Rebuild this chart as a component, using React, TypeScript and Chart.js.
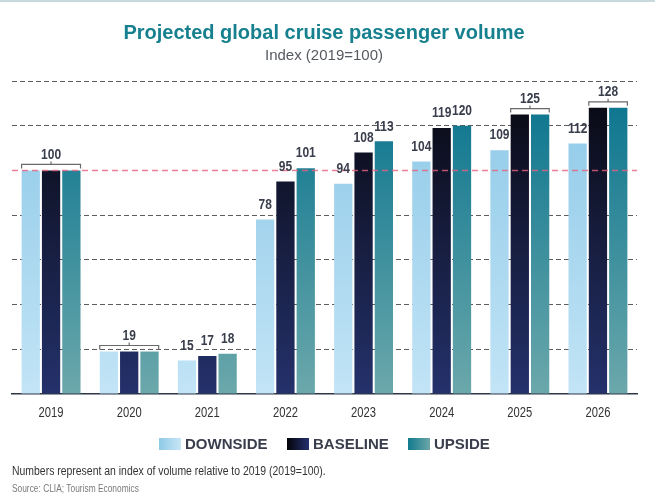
import React, { useEffect, useRef } from "react";
import { Chart, registerables } from "chart.js";
Chart.register(...registerables);

const years = ["2019", "2020", "2021", "2022", "2023", "2024", "2025", "2026"];
const downside = [100, 19, 15, 78, 94, 104, 109, 112];
const baseline = [100, 19, 17, 95, 108, 119, 125, 128];
const upside = [100, 19, 18, 101, 113, 120, 125, 128];
const seriesNames = ["DOWNSIDE", "BASELINE", "UPSIDE"];
const yMax = 140;
const yStep = 20;
const referenceValue = 100;
const titleText = "Projected global cruise passenger volume";
const subtitleText = "Index (2019=100)";
const footnoteText = "Numbers represent an index of volume relative to 2019 (2019=100).";
const sourceText = "Source: CLIA; Tourism Economics";

const SANS = "'Liberation Sans', Arial, sans-serif";

// vertical gradient stops (top, bottom) per series
const barStops = [
  ["#8cc8e7", "#c2e4f6"],
  ["#08080f", "#24316b"],
  ["#06728d", "#6ba8ab"],
];
// horizontal legend swatches (left, right)
const swatchStops = [
  ["#8ecae6", "#c8e6f6"],
  ["#04040a", "#23306e"],
  ["#117a8e", "#6ca6a9"],
];

function barGradient(i: number) {
  return (context: any) => {
    const chart = context.chart;
    const area = chart.chartArea;
    if (!area) return barStops[i][1];
    const g = chart.ctx.createLinearGradient(0, area.top, 0, area.bottom);
    g.addColorStop(0, barStops[i][0]);
    g.addColorStop(1, barStops[i][1]);
    return g;
  };
}

function condText(ctx: CanvasRenderingContext2D, text: string, x: number, y: number, sx: number) {
  ctx.save();
  ctx.translate(x, y);
  ctx.scale(sx, 1);
  ctx.fillText(text, 0, 0);
  ctx.restore();
}

const decorPlugin = {
  id: "decor",
  afterDatasetsDraw(chart: any) {
    const { ctx, chartArea, scales } = chart;
    // reference line
    const y = scales.y.getPixelForValue(referenceValue);
    ctx.save();
    ctx.strokeStyle = "rgba(232, 96, 128, 0.8)";
    ctx.lineWidth = 1.5;
    ctx.setLineDash([6, 4]);
    ctx.beginPath();
    ctx.moveTo(chartArea.left, y);
    ctx.lineTo(chartArea.right, y);
    ctx.stroke();
    ctx.restore();

    // category labels
    ctx.save();
    ctx.fillStyle = "#333333";
    ctx.font = `14px ${SANS}`;
    ctx.textAlign = "center";
    ctx.textBaseline = "middle";
    scales.x.ticks.forEach((_t: any, idx: number) => {
      const x = scales.x.getPixelForTick(idx);
      condText(ctx, years[idx], x, chartArea.bottom + 19, 0.8);
    });
    ctx.restore();

    // data labels and brackets
    const metas = [0, 1, 2].map((i) => chart.getDatasetMeta(i));
    const series = [downside, baseline, upside];
    ctx.save();
    ctx.fillStyle = "#3a3e4c";
    ctx.font = `bold 15px ${SANS}`;
    ctx.textAlign = "center";
    ctx.textBaseline = "middle";
    const SX = 0.8;
    const drawBracket = (bars: any[], value: number) => {
      const left = bars[0].x - bars[0].width / 2;
      const right = bars[bars.length - 1].x + bars[bars.length - 1].width / 2;
      const top = scales.y.getPixelForValue(value);
      const by = top - 6;
      const cx = (left + right) / 2;
      ctx.save();
      ctx.strokeStyle = "#6a6a6a";
      ctx.lineWidth = 1.2;
      ctx.beginPath();
      ctx.moveTo(left, by + 4);
      ctx.lineTo(left, by);
      ctx.lineTo(right, by);
      ctx.lineTo(right, by + 4);
      ctx.moveTo(cx, by);
      ctx.lineTo(cx, by - 3);
      ctx.stroke();
      ctx.restore();
      condText(ctx, String(value), cx, by - 10, SX);
    };
    for (let j = 0; j < years.length; j++) {
      const bars = metas.map((m) => m.data[j]);
      const d = downside[j], b = baseline[j], u = upside[j];
      if (d === b && b === u) {
        drawBracket(bars, b);
      } else if (b === u) {
        condText(ctx, String(d), bars[0].x, bars[0].y - 15, SX);
        drawBracket([bars[1], bars[2]], b);
      } else {
        for (let i = 0; i < 3; i++) {
          condText(ctx, String(series[i][j]), bars[i].x, bars[i].y - 15, SX);
        }
      }
    }
    ctx.restore();
  },
  afterDraw(chart: any) {
    const { ctx } = chart;
    ctx.save();
    // top rule
    ctx.fillStyle = "#c9dadf";
    ctx.fillRect(0, 0, 655, 2);
    // title
    ctx.textAlign = "center";
    ctx.textBaseline = "middle";
    ctx.fillStyle = "#17808f";
    ctx.font = `bold 20px ${SANS}`;
    ctx.fillText(titleText, 324, 33);
    ctx.fillStyle = "#555a60";
    ctx.font = `15px ${SANS}`;
    ctx.fillText(subtitleText, 324, 56);

    // legend
    const legendX = [159, 287, 408];
    const ly = 444;
    ctx.textAlign = "left";
    ctx.font = `bold 15px ${SANS}`;
    for (let i = 0; i < 3; i++) {
      const x = legendX[i];
      const g = ctx.createLinearGradient(x, 0, x + 22, 0);
      g.addColorStop(0, swatchStops[i][0]);
      g.addColorStop(1, swatchStops[i][1]);
      ctx.fillStyle = g;
      ctx.fillRect(x, ly - 6, 22, 12);
      ctx.fillStyle = "#3a3e4c";
      ctx.fillText(seriesNames[i], x + 26, ly + 1);
    }

    // notes
    ctx.fillStyle = "#333333";
    ctx.font = `12px ${SANS}`;
    condText(ctx, footnoteText, 12, 472, 0.87);
    ctx.fillStyle = "#7a7a7a";
    ctx.font = `11px ${SANS}`;
    condText(ctx, sourceText, 12, 489, 0.76);
    ctx.restore();
  },
};

export default function App() {
  const ref = useRef<HTMLCanvasElement>(null);
  useEffect(() => {
    if (!ref.current) return;
    const chart = new Chart(ref.current, {
      type: "bar",
      data: {
        labels: years,
        datasets: [downside, baseline, upside].map((values, i) => ({
          label: seriesNames[i],
          data: values,
          backgroundColor: barGradient(i),
          borderWidth: 0,
          categoryPercentage: 0.78,
          barPercentage: 0.9,
        })),
      },
      options: {
        responsive: false,
        animation: false,
        layout: { padding: { left: 12, right: 18, top: 81, bottom: 75 } },
        plugins: {
          legend: { display: false },
          tooltip: { enabled: false },
          title: { display: false },
        },
        scales: {
          x: {
            grid: { display: false, drawTicks: false },
            border: { display: true, color: "#2c3648", width: 1.5 },
            ticks: { display: false },
            afterFit: (s: any) => {
              s.height = 30;
            },
          },
          y: {
            min: 0,
            max: yMax,
            ticks: { display: false, stepSize: yStep },
            grid: {
              drawTicks: false,
              color: (c: any) =>
                c.tick && (c.tick.value === 0 || c.tick.value === referenceValue)
                  ? "rgba(0,0,0,0)"
                  : "#5c5c5c",
              lineWidth: 1,
            },
            border: { display: false, dash: [5, 3] },
            afterFit: (s: any) => {
              s.width = 0;
            },
          },
        },
      },
      plugins: [decorPlugin],
    });
    return () => chart.destroy();
  }, []);
  return (
    <div style={{ position: "absolute", left: 0, top: 0, width: 655, height: 499, background: "#ffffff" }}>
      <canvas ref={ref} width={655} height={499} style={{ display: "block" }} />
    </div>
  );
}
